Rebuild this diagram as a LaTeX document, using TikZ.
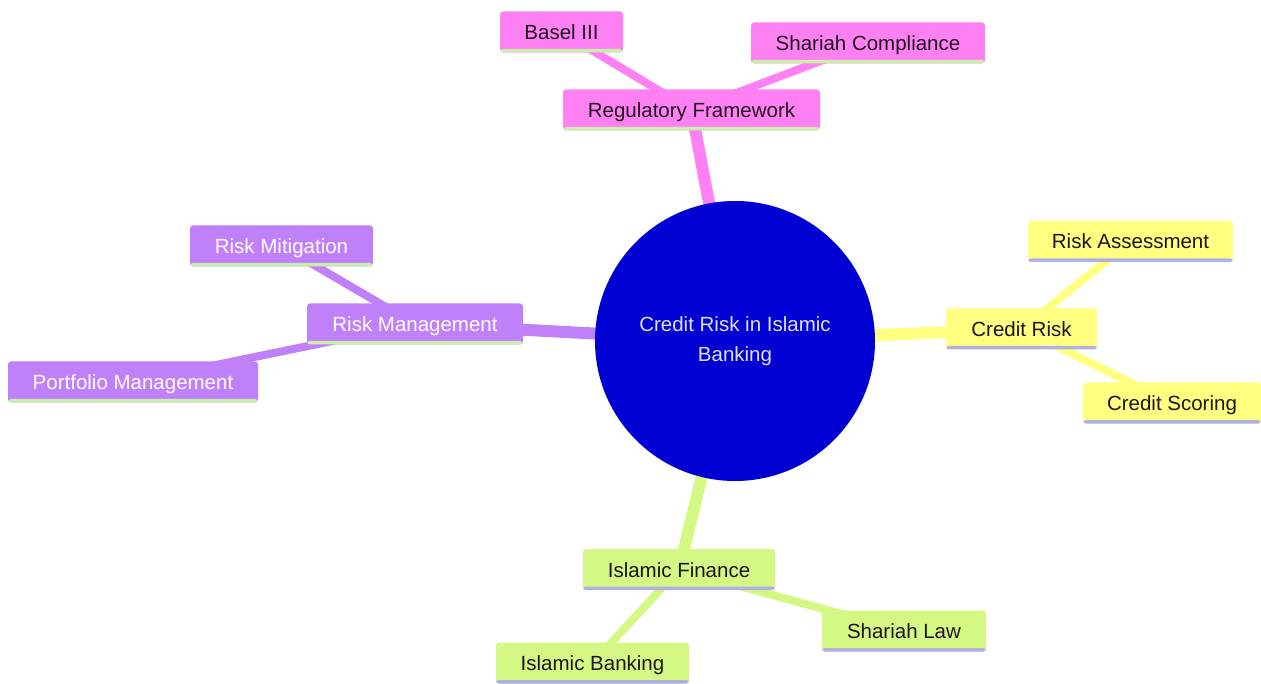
\documentclass[tikz,border=0pt]{standalone}
\usepackage{fontspec}
\setmainfont{Liberation Sans}
\usetikzlibrary{backgrounds}
\definecolor{pinkc}{RGB}{255,128,242}
\definecolor{purpc}{RGB}{192,128,250}
\definecolor{yelc}{RGB}{255,255,128}
\definecolor{grnc}{RGB}{212,248,132}
\definecolor{hubc}{RGB}{0,0,210}
\definecolor{shgrn}{RGB}{200,240,170}
\definecolor{shlav}{RGB}{176,176,228}
\definecolor{darktxt}{RGB}{30,20,30}
\begin{document}
\begin{tikzpicture}[x=1pt,y=-1pt,
  box/.style n args={3}{rectangle, rounded corners=3pt, fill=#1, inner sep=0pt,
     minimum height=41pt, text=#3, font=\fontsize{20.5}{24}\selectfont, text depth=0pt, text height=15pt,
     path picture={\fill[#2] ([yshift=3.5pt]path picture bounding box.south west) rectangle (path picture bounding box.south east);}},
  pinkbox/.style={box={pinkc}{shgrn}{darktxt}},
  purpbox/.style={box={purpc}{shgrn}{white}},
  yelbox/.style={box={yelc}{shlav}{darktxt}},
  grnbox/.style={box={grnc}{shlav}{darktxt}},
  mainline/.style={line width=12pt},
  subline/.style={line width=8pt}
]
\useasboundingbox (0,0) rectangle (1261,684);
% nodes
\node[circle, fill=hubc, minimum size=280pt, inner sep=0pt, text=white!88!blue, align=center,
      font=\fontsize{20.5}{30}\selectfont] (hub) at (735,341) {Credit Risk in Islamic\\Banking};
\node[pinkbox, minimum width=257pt] (rf) at (691.5,110) {Regulatory Framework};
\node[pinkbox, minimum width=123pt] (basel) at (561.5,32) {Basel III};
\node[pinkbox, minimum width=234pt] (shc) at (868,43) {Shariah Compliance};
\node[purpbox, minimum width=216pt] (rman) at (415,324) {Risk Management};
\node[purpbox, minimum width=183pt] (rmit) at (281.5,246) {Risk Mitigation};
\node[purpbox, minimum width=250pt] (pm) at (133,382) {Portfolio Management};
\node[yelbox, minimum width=151pt] (cr) at (1021.5,329) {Credit Risk};
\node[yelbox, minimum width=205pt] (ra) at (1130.5,241.5) {Risk Assessment};
\node[yelbox, minimum width=178pt] (cs) at (1172,403) {Credit Scoring};
\node[grnbox, minimum width=192pt] (if) at (679,569.5) {Islamic Finance};
\node[grnbox, minimum width=164pt] (sl) at (904,631) {Shariah Law};
\node[grnbox, minimum width=193pt] (ib) at (592.5,663) {Islamic Banking};
% connectors behind
\begin{scope}[on background layer]
\draw[mainline, pinkc] (hub.center) -- (rf.center);
\draw[subline, pinkc] (rf.center) -- (basel.center);
\draw[subline, pinkc] (rf.center) -- (shc.center);
\draw[mainline, purpc] (hub.center) -- (rman.center);
\draw[subline, purpc] (rman.center) -- (rmit.center);
\draw[subline, purpc] (rman.center) -- (pm.center);
\draw[mainline, yelc] (hub.center) -- (cr.center);
\draw[subline, yelc] (cr.center) -- (ra.center);
\draw[subline, yelc] (cr.center) -- (cs.center);
\draw[mainline, grnc] (hub.center) -- (if.center);
\draw[subline, grnc] (if.center) -- (sl.center);
\draw[subline, grnc] (if.center) -- (ib.center);
\end{scope}
\end{tikzpicture}
\end{document}
